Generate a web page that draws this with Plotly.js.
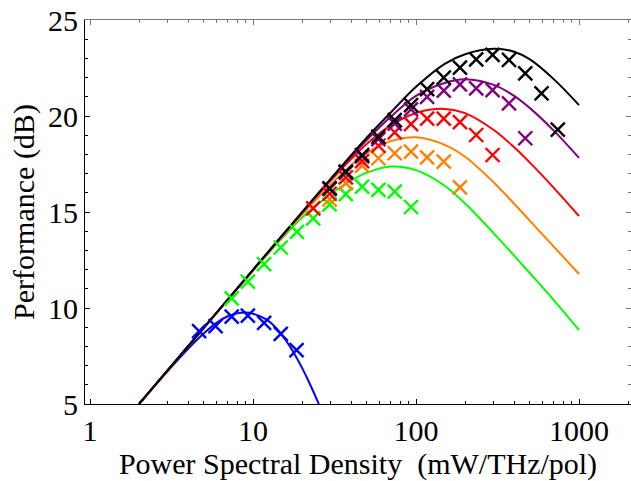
<!DOCTYPE html>
<html>
<head>
<meta charset="utf-8">
<script src="https://cdn.plot.ly/plotly-3.0.1.min.js"></script>
<style>html,body{margin:0;padding:0;background:#fff;}#chart{width:631px;height:481px;}</style>
</head>
<body>
<div id="chart"></div>
<script>
// ---- data ----
const curveX  = [2, 3, 5, 7, 10, 15, 20, 30, 40, 50, 70, 100, 150, 200, 300, 400, 500, 700, 1000];
const blackY  = [5.00, 6.76, 8.98, 10.44, 11.99, 13.75, 14.99, 16.74, 17.96, 18.88, 20.18, 21.52, 22.72, 23.22, 23.50, 23.35, 22.95, 21.92, 20.57];
const purpleY = [5.00, 6.76, 8.98, 10.44, 11.99, 13.74, 14.98, 16.70, 17.88, 18.76, 19.96, 21.05, 21.72, 21.91, 21.62, 21.05, 20.41, 19.24, 17.82];
const redY    = [5.00, 6.76, 8.98, 10.44, 11.98, 13.72, 14.95, 16.64, 17.76, 18.55, 19.51, 20.16, 20.37, 20.15, 19.27, 18.37, 17.57, 16.26, 14.79];
const orangeY = [5.00, 6.76, 8.98, 10.43, 11.96, 13.68, 14.86, 16.44, 17.44, 18.08, 18.69, 18.89, 18.50, 17.88, 16.54, 15.43, 14.54, 13.20, 11.77];
const greenY  = [5.00, 6.76, 8.97, 10.42, 11.94, 13.61, 14.71, 15.94, 16.64, 17.05, 17.37, 17.18, 16.37, 15.44, 13.89, 12.73, 11.81, 10.41, 8.85];

const blueX = [2, 3, 4, 5, 6, 7, 8, 9, 10, 12, 14, 16, 18, 20, 22, 25, 28];
const blueY = [5.00, 6.72, 7.88, 8.69, 9.24, 9.57, 9.72, 9.76, 9.70, 9.42, 8.92, 8.28, 7.59, 6.88, 6.16, 5.11, 4.08];

const blueMx   = [4.67, 5.89, 7.4, 9.3, 11.7, 14.8, 18.5];
const blueMy   = [8.80, 9.06, 9.55, 9.60, 9.23, 8.65, 7.81];
const greenMx  = [7.4, 9.3, 11.7, 14.8, 18.6, 23.4, 29.5, 37.1, 46.7, 58.8, 74, 93.2];
const greenMy  = [10.50, 11.37, 12.29, 13.15, 13.97, 14.67, 15.40, 15.93, 16.32, 16.15, 16.06, 15.26];
const orangeMx = [29.5, 37.1, 46.7, 58.8, 74, 93.2, 117, 148, 186];
const orangeMy = [15.65, 16.50, 17.42, 17.80, 18.06, 18.14, 17.84, 17.62, 16.28];
const redMx    = [23.4, 29.5, 37.1, 46.7, 58.8, 74, 93.2, 117, 148, 186, 234, 295];
const redMy    = [15.19, 15.95, 16.80, 17.65, 18.45, 19.15, 19.58, 19.86, 19.86, 19.68, 19.01, 17.97];
const purpleMx = [29.5, 37.1, 46.7, 58.8, 74, 93.2, 117, 148, 186, 234, 295, 372, 468];
const purpleMy = [16.20, 17.05, 17.90, 18.80, 19.60, 20.35, 21.00, 21.32, 21.65, 21.44, 21.35, 20.66, 18.84];
const blackMx  = [29.5, 37.1, 46.7, 58.8, 74, 93.2, 117, 148, 186, 234, 295, 372, 468, 589, 741];
const blackMy  = [16.23, 17.10, 17.97, 18.92, 19.79, 20.57, 21.40, 22.00, 22.52, 22.95, 23.18, 22.92, 22.22, 21.18, 19.29];

const xTickVals = [1, 10, 100, 1000];
const xTickText = ['1', '10', '100', '1000'];
const xMinorVals = [2,3,4,5,6,7,8,9,20,30,40,50,60,70,80,90,200,300,400,500,600,700,800,900,2000];
const yTickVals = [5, 10, 15, 20, 25];

const xTitle = 'Power Spectral Density\u00a0 (mW/THz/pol)';
const yTitle = 'Performance (dB)';

// ---- styling ----
const C = {black:'#000000', purple:'#800080', red:'#ff0000', orange:'#ff8000', green:'#00ff00', blue:'#0000ff'};
const FONT = 'Liberation Serif, Times New Roman, serif';
const FS = 30;

function line(x, y, color) {
  return {x: x, y: y, mode: 'lines', type: 'scatter', hoverinfo: 'skip',
          line: {color: color, width: 2, shape: 'spline', smoothing: 1}, showlegend: false};
}
function marks(x, y, color) {
  return {x: x, y: y, mode: 'markers', type: 'scatter', hoverinfo: 'skip', showlegend: false,
          marker: {symbol: 'x-thin-open', size: 14, color: color, line: {color: color, width: 2.4}}};
}

const traces = [
  line(blueX, blueY, C.blue),
  line(curveX, greenY, C.green),
  line(curveX, orangeY, C.orange),
  line(curveX, redY, C.red),
  line(curveX, purpleY, C.purple),
  line(curveX, blackY, C.black),
  marks(blueMx, blueMy, C.blue),
  marks(greenMx, greenMy, C.green),
  marks(orangeMx, orangeMy, C.orange),
  marks(redMx, redMy, C.red),
  marks(purpleMx, purpleMy, C.purple),
  marks(blackMx, blackMy, C.black),
  {x: [10], y: [10], xaxis: 'x2', yaxis: 'y2', mode: 'markers', marker: {opacity: 0}, showlegend: false, hoverinfo: 'skip'}
];

const xRange = [-0.0307, 3.319];
const yRange = [5, 25];

const layout = {
  width: 631, height: 481,
  margin: {l: 85, r: 0, t: 20, b: 77},
  paper_bgcolor: '#ffffff', plot_bgcolor: '#ffffff',
  font: {family: FONT, size: FS, color: '#000'},
  showlegend: false,
  xaxis: {
    type: 'log', range: xRange, showgrid: false, zeroline: false,
    showline: true, linecolor: '#000', linewidth: 1,
    ticks: 'inside', ticklen: 5, tickwidth: 1, tickcolor: '#000',
    tickmode: 'array', tickvals: xTickVals, ticktext: xTickText,
    tickfont: {family: FONT, size: FS, color: '#000'},
    minor: {tickmode: 'array', tickvals: xMinorVals, ticks: 'inside', ticklen: 3, tickwidth: 1, tickcolor: '#000', showgrid: false},
    title: {text: xTitle, font: {family: FONT, size: FS, color: '#000'}, standoff: 19},
    automargin: false
  },
  yaxis: {
    range: yRange, showgrid: false, zeroline: false,
    showline: true, linecolor: '#000', linewidth: 1,
    ticks: 'inside', ticklen: 5, tickwidth: 1, tickcolor: '#000',
    tickmode: 'array', tickvals: yTickVals,
    tickfont: {family: FONT, size: FS, color: '#000'},
    minor: {dtick: 1, ticks: 'inside', ticklen: 3, tickwidth: 1, tickcolor: '#000', showgrid: false},
    title: {text: yTitle, font: {family: FONT, size: FS, color: '#000'}, standoff: 4},
    automargin: false
  },
  xaxis2: {
    type: 'log', range: xRange, overlaying: 'x', side: 'top', anchor: 'y2',
    showgrid: false, zeroline: false, showline: true, linecolor: '#777', linewidth: 1,
    ticks: 'inside', ticklen: 5, tickcolor: '#777', showticklabels: false,
    tickmode: 'array', tickvals: xTickVals,
    minor: {tickmode: 'array', tickvals: xMinorVals, ticks: 'inside', ticklen: 3, tickcolor: '#777', showgrid: false}
  },
  yaxis2: {
    range: yRange, overlaying: 'y', side: 'right', anchor: 'x2',
    showgrid: false, zeroline: false, showline: false,
    ticks: 'inside', ticklen: 5, tickcolor: '#777', showticklabels: false,
    tickmode: 'array', tickvals: yTickVals,
    minor: {dtick: 1, ticks: 'inside', ticklen: 3, tickcolor: '#777', showgrid: false}
  }
};

Plotly.newPlot('chart', traces, layout, {staticPlot: true, displayModeBar: false});
</script>
</body>
</html>
